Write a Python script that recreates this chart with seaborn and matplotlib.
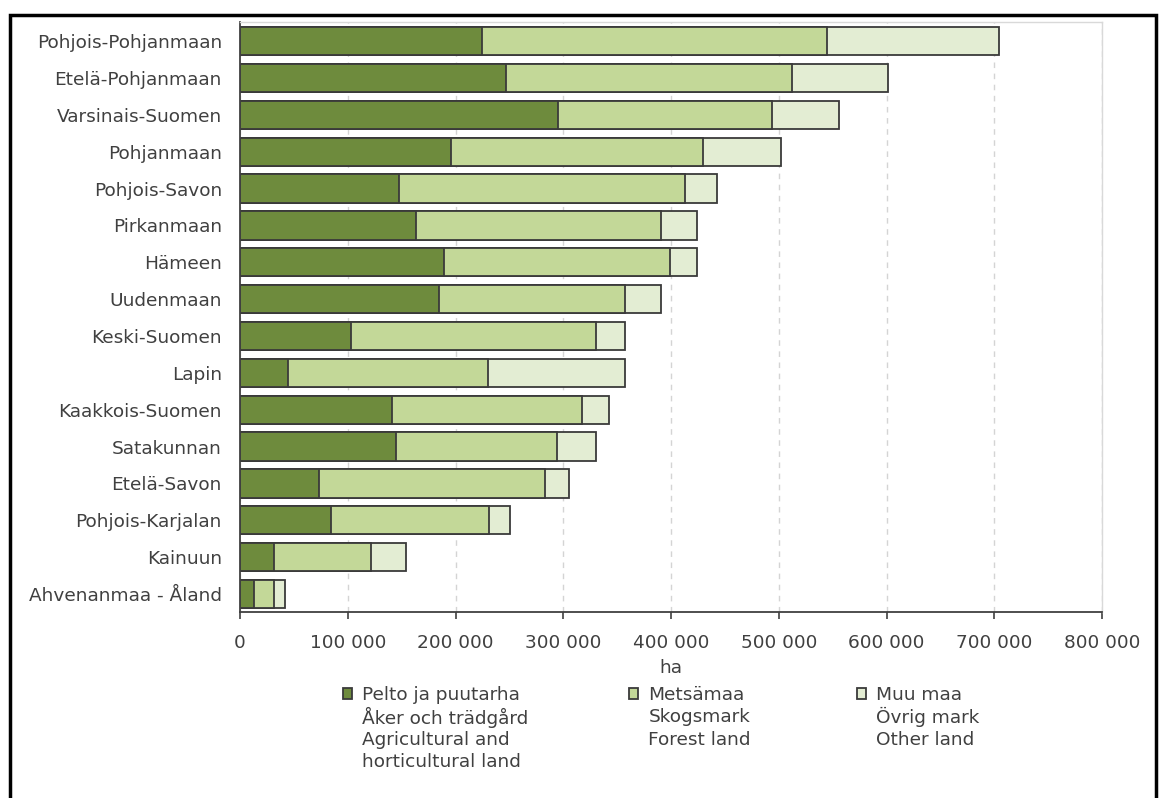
import numpy as np
import pandas as pd
import matplotlib
matplotlib.use("Agg")
import matplotlib.pyplot as plt
import seaborn as sns
from matplotlib.patches import Rectangle

# ---------------- data ----------------
regions = ["Pohjois-Pohjanmaan", "Etelä-Pohjanmaan", "Varsinais-Suomen", "Pohjanmaan",
           "Pohjois-Savon", "Pirkanmaan", "Hämeen", "Uudenmaan", "Keski-Suomen", "Lapin",
           "Kaakkois-Suomen", "Satakunnan", "Etelä-Savon", "Pohjois-Karjalan", "Kainuun",
           "Ahvenanmaa - Åland"]
agricultural = [225000, 247000, 295000, 196000, 148000, 163000, 189000, 185000,
                103000, 45000, 141000, 145000, 73000, 84000, 32000, 13000]
forest = [320000, 265000, 199000, 234000, 265000, 228000, 210000, 172000,
          227000, 185000, 176000, 149000, 210000, 147000, 90000, 19000]
other = [159000, 89000, 62000, 72000, 30000, 33000, 25000, 34000,
         27000, 127000, 25000, 36000, 22000, 20000, 32000, 10000]
series_labels = ["Pelto ja puutarha\nÅker och trädgård\nAgricultural and\nhorticultural land",
                 "Metsämaa\nSkogsmark\nForest land",
                 "Muu maa\nÖvrig mark\nOther land"]
xticks = [0, 100000, 200000, 300000, 400000, 500000, 600000, 700000, 800000]
xtick_labels = ["0", "100 000", "200 000", "300 000", "400 000", "500 000",
                "600 000", "700 000", "800 000"]
x_label = "ha"

# ---------------- style ----------------
sns.set_style("white")
plt.rcParams['font.family'] = ['DejaVu Sans']
TXT = "#404040"
FS = 13.3
c_dark, c_mid, c_pale = "#6e8b3d", "#c3d898", "#e3edd3"
W, H = 1160, 798

df = pd.DataFrame({"region": regions, "agri": agricultural, "forest": forest, "other": other})
df["c1"] = df["agri"]
df["c2"] = df["agri"] + df["forest"]
df["c3"] = df["c2"] + df["other"]

fig = plt.figure(figsize=(W / 100, H / 100), dpi=100)
ax = fig.add_axes([240 / W, (H - 611.7) / H, (1102 - 240) / W, (611.7 - 22) / H])

for col, color in [("c3", c_pale), ("c2", c_mid), ("c1", c_dark)]:
    sns.barplot(data=df, x=col, y="region", color=color, orient="h", width=0.77,
                edgecolor="#3a3a3a", linewidth=1.3, saturation=1, errorbar=None, ax=ax)

ax.set_xlim(0, 800000)
ax.set_ylim(15.48, -0.52)
ax.set_xticks(xticks)
ax.set_xticklabels(xtick_labels)
ax.set_ylabel("")
ax.set_xlabel(x_label, fontsize=FS, color=TXT, labelpad=5)

ax.xaxis.grid(True, linestyle=(0, (4, 4)), color="#d4d4d4", linewidth=1)
ax.yaxis.grid(False)
ax.set_axisbelow(True)

for s in ["left", "bottom"]:
    ax.spines[s].set_color("#404040")
    ax.spines[s].set_linewidth(1.3)
for s in ["top", "right"]:
    ax.spines[s].set_color("#d9d9d9")
    ax.spines[s].set_linewidth(1.0)

ax.tick_params(axis="x", length=5, width=1.2, color="#404040", direction="out",
               pad=11, labelsize=FS, labelcolor=TXT, bottom=True)
ax.tick_params(axis="y", length=0, pad=13, labelsize=FS, labelcolor=TXT)

# figure frame
fig.add_artist(Rectangle((10 / W, -0.05), (1156 - 10) / W, (1 - 15 / H) + 0.05,
                         transform=fig.transFigure, fill=False, edgecolor="black",
                         linewidth=2.5))

# legend: one entry per column, first line next to the swatch, rest below
handles = [ax.containers[2][0], ax.containers[1][0], ax.containers[0][0]]
leg_x = [343, 629, 857]
leg_y = 695
line_step = 22.3
legends = []
for h, lab, x in zip(handles, series_labels, leg_x):
    first = lab.split("\n")[0]
    leg = fig.legend([h], [first], loc="center left",
                     bbox_to_anchor=(x / W, 1 - leg_y / H), bbox_transform=fig.transFigure,
                     frameon=False, borderpad=0, borderaxespad=0, handlelength=0.5,
                     handleheight=0.5, handletextpad=0.55, fontsize=FS, labelcolor=TXT)
    legends.append(leg)

fig.canvas.draw()
renderer = fig.canvas.get_renderer()
for leg, lab in zip(legends, series_labels):
    t = leg.get_texts()[0]
    bb = t.get_window_extent(renderer)
    for k, line in enumerate(lab.split("\n")[1:], start=1):
        fig.text(bb.x0 / W, 1 - (leg_y + k * line_step) / H, line, ha="left", va="center",
                 fontsize=FS, color=TXT)

fig.savefig("out.png", dpi=100)
